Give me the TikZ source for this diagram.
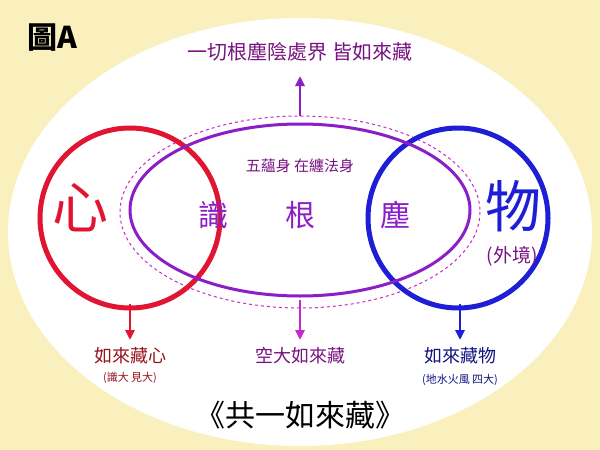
\documentclass[tikz,border=0pt]{standalone}
\usepackage{fontspec}
\setmainfont{Noto Sans CJK TC}
\usetikzlibrary{arrows.meta}
\definecolor{bg}{RGB}{249,240,190}
\definecolor{myred}{RGB}{225,20,50}
\definecolor{myblue}{RGB}{30,30,215}
\definecolor{mypurple}{RGB}{140,30,200}
\definecolor{txtpurple}{RGB}{120,20,130}
\definecolor{mymag}{RGB}{200,40,200}
\definecolor{dred}{RGB}{150,20,30}
\definecolor{dblue}{RGB}{20,20,130}
\tikzset{arr/.style={line width=2.5pt,-{Triangle[length=10pt,width=9pt]}},
 lab/.style={font=\fontsize{18}{18}\selectfont},
 sub/.style={font=\fontsize{11}{11}\selectfont},
 mid/.style={text=mypurple,font=\fontsize{30}{30}\selectfont}}
\begin{document}
\begin{tikzpicture}[x=1pt,y=-1pt]
\fill[bg] (0,0) rectangle (600,450);
\useasboundingbox (0,0) rectangle (600,450);
\fill[white] (300,232) ellipse [x radius=292, y radius=214];
\node[font=\bfseries\fontsize{30}{30}\selectfont] (title) at (52,38) {圖A};
\node[text=txtpurple,font=\fontsize{20}{20}\selectfont] (top) at (300,52) {一切根塵陰處界 皆如來藏};
\draw[mymag,dashed,line width=1pt] (300,212) ellipse [x radius=180, y radius=96];
\draw[myred,line width=5pt] (130,218) circle [radius=90];
\draw[myblue,line width=5pt] (458,218) circle [radius=90];
\draw[mypurple,line width=3pt] (300,210) ellipse [x radius=170, y radius=86];
\coordinate (ut) at (300,116); \coordinate (uh) at (300,76);
\draw[arr,mypurple] (ut) -- (uh);
\node[text=txtpurple,font=\fontsize{15}{15}\selectfont] (wy) at (300,166) {五蘊身 在纏法身};
\node[text=myred,font=\fontsize{56}{56}\selectfont] (xin) at (80,208) {心};
\node[mid] (shi) at (213,215) {識};
\node[mid] (gen) at (300,215) {根};
\node[mid] (chen) at (395,215) {塵};
\node[text=myblue,font=\fontsize{56}{56}\selectfont] (wu) at (513,206) {物};
\node[text=txtpurple,font=\fontsize{19}{19}\selectfont] (wj) at (512,256) {(外境)};
\coordinate (a1) at (130,304); \coordinate (a2) at (300,300); \coordinate (a3) at (460,304);
\node[lab,text=dred] (l1) at (130,356) {如來藏心};
\node[sub,text=dred] (s1) at (130,378) {(識大 見大)};
\node[lab,text=txtpurple] (l2) at (300,356) {空大如來藏};
\node[lab,text=dblue] (l3) at (460,356) {如來藏物};
\node[sub,text=dblue] (s3) at (460,380) {(地水火風 四大)};
\draw[arr,myred] (a1) -- (130,340);
\draw[arr,mymag] (a2) -- (300,340);
\draw[arr,myblue] (a3) -- (460,340);
\node[font=\fontsize{30}{30}\selectfont] (bot) at (300,415) {《共一如來藏》};
\end{tikzpicture}
\end{document}
